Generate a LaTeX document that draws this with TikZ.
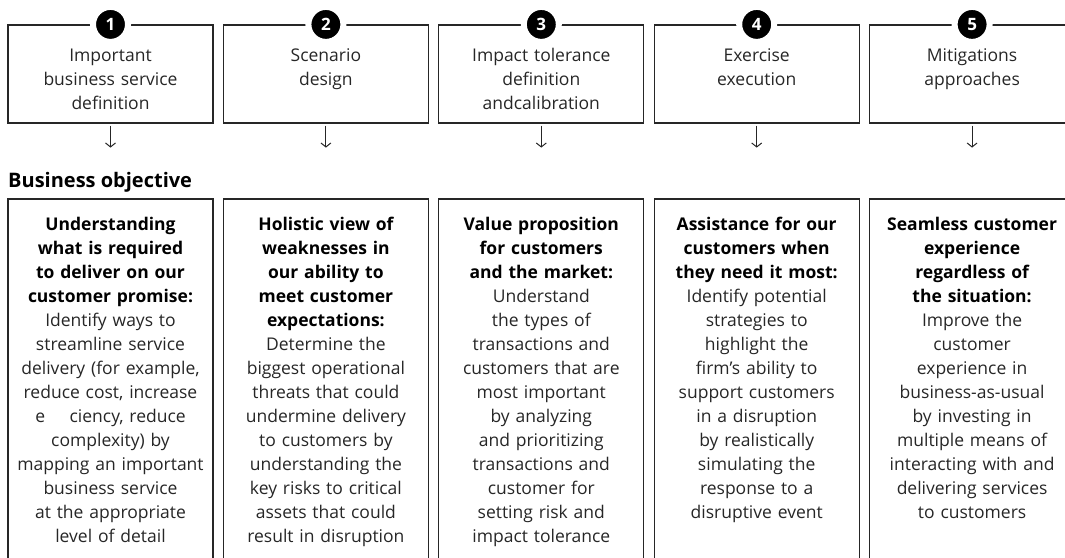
\documentclass[tikz,border=0pt]{standalone}
\usepackage{fontspec}
\setmainfont{Open Sans}
\usetikzlibrary{arrows.meta,positioning}
\tikzstyle{stepbox} = [rectangle, draw=black!85, line width=1.2pt,
    minimum width=205pt, minimum height=98pt, inner sep=0pt, node distance=215.4pt]
\tikzstyle{goalbox} = [rectangle, draw=black!85, line width=1.2pt,
    minimum width=205pt, minimum height=371pt, inner sep=0pt, node distance=310.5pt]
\tikzstyle{steptext} = [text width=204pt, align=center, inner sep=0pt,
    font=\fontsize{17.5}{24}\selectfont, text=black!85]
\tikzstyle{numcirc} = [circle, fill=black, draw=white, line width=6pt,
    minimum size=35pt, inner sep=0pt, text=white, font=\fontsize{17}{17}\selectfont\bfseries]
\tikzstyle{line} = [draw=black!85, line width=1pt, -{Straight Barb[length=4pt,width=10pt]}]
\newcommand{\goalhead}[1]{{\color{black}\bfseries #1}}

\begin{document}
\begin{tikzpicture}[x=1pt,y=1pt]
    \useasboundingbox (0,0) rectangle (1065,-557);
    \clip (0,0) rectangle (1065,-557);
    % Place nodes

    \node [stepbox] at (110.5,-74) (step1) {};
    \node [stepbox, right of=step1] (step2) {};
    \node [stepbox, right of=step2] (step3) {};
    \node [stepbox, right of=step3] (step4) {};
    \node [stepbox, right of=step4] (step5) {};

    \node [steptext, below=24pt of step1.north] (stepText1) {Important\\business service\\definition};
    \node [steptext, below=24pt of step2.north] (stepText2) {Scenario\\design};
    \node [steptext, below=24pt of step3.north] (stepText3) {Impact tolerance\\definition\\andcalibration};
    \node [steptext, below=24pt of step4.north] (stepText4) {Exercise\\execution};
    \node [steptext, below=24pt of step5.north] (stepText5) {Mitigations\\approaches};

    \node [numcirc] at (step1.north) (num1) {1};
    \node [numcirc] at (step2.north) (num2) {2};
    \node [numcirc] at (step3.north) (num3) {3};
    \node [numcirc] at (step4.north) (num4) {4};
    \node [numcirc] at (step5.north) (num5) {5};

    \coordinate [below=24pt of step1] (arrow1);
    \coordinate [below=24pt of step2] (arrow2);
    \coordinate [below=24pt of step3] (arrow3);
    \coordinate [below=24pt of step4] (arrow4);
    \coordinate [below=24pt of step5] (arrow5);

    \node [anchor=base west, inner sep=0pt, font=\fontsize{20}{20}\selectfont\bfseries] at (8,-187) (objective) {Business objective};

    \node [goalbox, below of=step1] (goal1) {};
    \node [goalbox, below of=step2] (goal2) {};
    \node [goalbox, below of=step3] (goal3) {};
    \node [goalbox, below of=step4] (goal4) {};
    \node [goalbox, below of=step5] (goal5) {};

    \node [steptext, below=19pt of goal1.north] (goalText1) {\goalhead{Understanding\\what is required\\to deliver on our\\customer promise:}\\
        Identify ways to\\streamline service\\delivery (for example,\\reduce cost, increase\\e\hspace{1.4em}ciency, reduce\\complexity) by\\mapping an important\\business service\\at the appropriate\\level of detail};
    \node [steptext, below=19pt of goal2.north] (goalText2) {\goalhead{Holistic view of\\weaknesses in\\our ability to\\meet customer\\expectations:}\\
        Determine the\\biggest operational\\threats that could\\undermine delivery\\to customers by\\understanding the\\key risks to critical\\assets that could\\result in disruption};
    \node [steptext, below=19pt of goal3.north] (goalText3) {\goalhead{Value proposition\\for customers\\and the market:}\\
        Understand\\the types of\\transactions and\\customers that are\\most important\\by analyzing\\and prioritizing\\transactions and\\customer for\\setting risk and\\impact tolerance};
    \node [steptext, below=19pt of goal4.north] (goalText4) {\goalhead{Assistance for our\\customers when\\they need it most:}\\
        Identify potential\\strategies to\\highlight the\\firm’s ability to\\support customers\\in a disruption\\by realistically\\simulating the\\response to a\\disruptive event};
    \node [steptext, below=19pt of goal5.north] (goalText5) {\goalhead{Seamless customer\\experience\\regardless of\\the situation:}\\
        Improve the\\customer\\experience in\\business-as-usual\\by investing in\\multiple means of\\interacting with and\\delivering services\\to customers};

    \path [line] ([yshift=-2pt]step1.south) -- (arrow1);
    \path [line] ([yshift=-2pt]step2.south) -- (arrow2);
    \path [line] ([yshift=-2pt]step3.south) -- (arrow3);
    \path [line] ([yshift=-2pt]step4.south) -- (arrow4);
    \path [line] ([yshift=-2pt]step5.south) -- (arrow5);
\end{tikzpicture}
\end{document}
